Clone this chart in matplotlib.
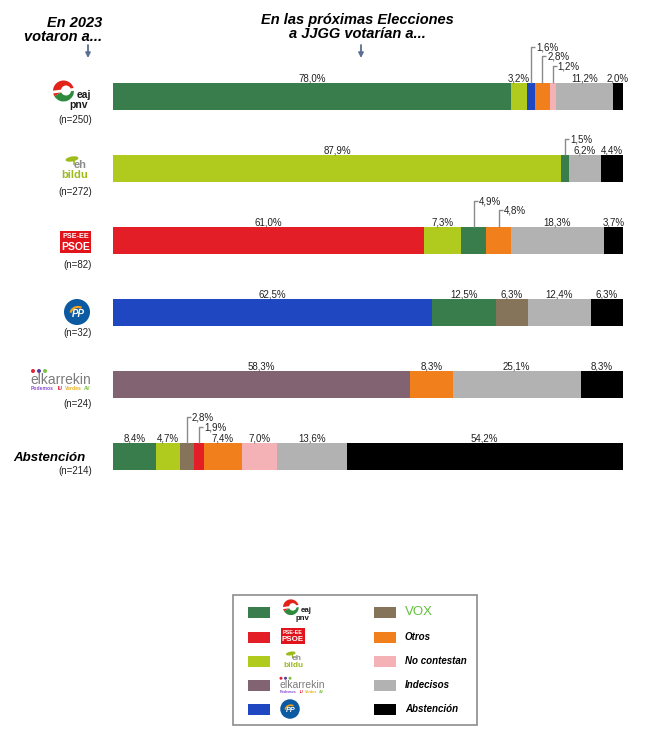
import matplotlib
matplotlib.use('Agg')
import matplotlib.pyplot as plt
from matplotlib.patches import Rectangle, Circle, Wedge, Ellipse, Arc
import numpy as np

plt.rcParams['font.family'] = ['Liberation Sans', 'DejaVu Sans']

# --- data ---
rows = ['PNV', 'Bildu', 'PSOE', 'PP', 'Elkarrekin', 'Abstención']
n_sizes = [250, 272, 82, 32, 24, 214]
row_segments = [
    ['PNV', 'Bildu', 'PP', 'Otros', 'No contestan', 'Indecisos', 'Abstención'],
    ['Bildu', 'PNV', 'Indecisos', 'Abstención'],
    ['PSOE', 'Bildu', 'PNV', 'Otros', 'Indecisos', 'Abstención'],
    ['PP', 'PNV', 'VOX', 'Indecisos', 'Abstención'],
    ['Elkarrekin', 'Otros', 'Indecisos', 'Abstención'],
    ['PNV', 'Bildu', 'VOX', 'PSOE', 'Otros', 'No contestan', 'Indecisos', 'Abstención'],
]
row_values = [
    [78.0, 3.2, 1.6, 2.8, 1.2, 11.2, 2.0],
    [87.9, 1.5, 6.2, 4.4],
    [61.0, 7.3, 4.9, 4.8, 18.3, 3.7],
    [62.5, 12.5, 6.3, 12.4, 6.3],
    [58.3, 8.3, 25.1, 8.3],
    [8.4, 4.7, 2.8, 1.9, 7.4, 7.0, 13.6, 54.2],
]
legend_left = ['PNV', 'PSOE', 'Bildu', 'Elkarrekin', 'PP']
legend_right = ['VOX', 'Otros', 'No contestan', 'Indecisos', 'Abstención']

colors = {
    'PNV': '#3a7d4c', 'Bildu': '#b0ca1e', 'PSOE': '#e31e26',
    'Elkarrekin': '#826371', 'PP': '#1e47c1', 'VOX': '#857459',
    'Otros': '#f07f1c', 'No contestan': '#f4b2b6', 'Indecisos': '#b1b2b1',
    'Abstención': '#000000',
}

# small segments labelled with a leader line: (row, segment) -> height in px above bar
leaders = {
    (0, 'PP'): 36, (0, 'Otros'): 27, (0, 'No contestan'): 17,
    (1, 'PNV'): 16,
    (2, 'PNV'): 26, (2, 'Otros'): 17,
    (5, 'VOX'): 26, (5, 'PSOE'): 16,
}

# --- layout (pixels) ---
W, H = 671, 755
ROW0, PITCH, BAR_PX = 97, 72, 27
PX = 100 / 510          # data units per px (x)
PY = 1 / PITCH          # data units per px (y)
BAR_H = BAR_PX * PY

fig = plt.figure(figsize=(W / 100, H / 100), dpi=100)
ax = fig.add_axes([113 / W, 0, 510 / W, 1])
ax.set_xlim(0, 100)
ax.set_ylim((H - ROW0) / PITCH, -ROW0 / PITCH)
ax.axis('off')

ov = fig.add_axes([0, 0, 1, 1], zorder=3)
ov.set_xlim(0, W)
ov.set_ylim(H, 0)
ov.axis('off')

TXT = '#222222'
LEAD = '#8a8a8a'

for i, (segs, vals) in enumerate(zip(row_segments, row_values)):
    vals = np.array(vals)
    left = np.concatenate([[0], np.cumsum(vals)[:-1]])
    ax.barh(i, vals, left=left, height=BAR_H,
            color=[colors[s] for s in segs], linewidth=0)
    top = i - BAR_H / 2
    for s, v, l in zip(segs, vals, left):
        xc = l + v / 2
        lab = f'{v:.1f}%'.replace('.', ',')
        if (i, s) in leaders:
            lv = leaders[(i, s)] * PY
            ax.plot([xc, xc, xc + 4 * PX], [top, top - lv, top - lv],
                    color=LEAD, lw=1.0, solid_capstyle='butt')
            ax.text(xc + 5 * PX, top - lv, lab, ha='left', va='center',
                    fontsize=7, color=TXT)
        else:
            ax.text(xc, top - 1.5 * PY, lab, ha='center', va='baseline',
                    fontsize=7, color=TXT)


# --- logos (drawn in overlay pixel coords, cx/cy = logo centre) ---
def logo_pnv(cx, cy, s=1.0):
    c = (cx - 9.5 * s, cy - 5 * s)
    ov.add_patch(Wedge(c, 10.5 * s, 150, 345, color='#e2231a', lw=0))
    ov.add_patch(Wedge(c, 10.5 * s, 345, 510, color='#2e8b3e', lw=0))
    ov.add_patch(Circle((c[0] + 2.5 * s, c[1] - 0.5 * s), 5 * s, color='white', lw=0))
    ov.plot([c[0] - 10 * s, c[0] + 10 * s], [c[1] + 1 * s, c[1] - 1.5 * s],
            color='white', lw=2 * s)
    ov.text(cx + 11 * s, cy - 1 * s, 'eaj', ha='center', va='center',
            fontsize=7.5 * s, fontweight='bold', color='#1a1a1a')
    ov.text(cx + 6 * s, cy + 9.5 * s, 'pnv', ha='center', va='center',
            fontsize=7.5 * s, fontweight='bold', color='#1a1a1a')


def logo_bildu(cx, cy, s=1.0):
    ov.add_patch(Ellipse((cx - 3 * s, cy - 10 * s), 13 * s, 5 * s,
                         angle=-10, color='#9dbb1a', lw=0))
    ov.plot([cx - 1 * s, cx - 1 * s], [cy - 9 * s, cy - 5 * s],
            color='#9dbb1a', lw=1.2 * s)
    ov.text(cx + 5 * s, cy - 4 * s, 'eh', ha='center', va='center',
            fontsize=8 * s, fontweight='bold', color='#8c8c8c')
    ov.text(cx, cy + 5.5 * s, 'bildu', ha='center', va='center',
            fontsize=8 * s, fontweight='bold', color='#9dbb1a')


def logo_psoe(cx, cy, s=1.0):
    ov.add_patch(Rectangle((cx - 15.5 * s, cy - 11 * s), 31 * s, 22 * s,
                           color='#e2141b', lw=0))
    ov.text(cx, cy - 5 * s, 'PSE-EE', ha='center', va='center',
            fontsize=5.2 * s, fontweight='bold', color='white')
    ov.text(cx, cy + 4.5 * s, 'PSOE', ha='center', va='center',
            fontsize=7.5 * s, fontweight='bold', color='white')


def logo_pp(cx, cy, s=1.0):
    ov.add_patch(Circle((cx, cy), 13 * s, color='#0b5aa2', lw=0))
    ov.add_patch(Arc((cx + 1 * s, cy + 2 * s), 15 * s, 14 * s, theta1=190,
                     theta2=300, color='#f6a21b', lw=1.6 * s))
    ov.text(cx + 1 * s, cy + 2 * s, 'PP', ha='center', va='center',
            fontsize=7 * s, fontweight='bold', style='italic', color='white')


def logo_elk(cx, cy, s=1.0):
    for dx, col in zip([-28, -22, -16], ['#e2233a', '#5b3c9a', '#7cc242']):
        ov.add_patch(Circle((cx + dx * s, cy - 9 * s), 2 * s, color=col, lw=0))
    ov.text(cx, cy, 'elkarrekin', ha='center', va='center',
            fontsize=10 * s, color='#7b7b7b')
    sub = [('Podemos', -30, '#8c4fd0'), ('IU', -3, '#e2233a'),
           ('Verdes', 4, '#e7b21c'), ('AV', 23, '#7cc242')]
    for t, dx, col in sub:
        ov.text(cx + dx * s, cy + 9 * s, t, ha='left', va='center',
                fontsize=3.6 * s, fontweight='bold', color=col)


def logo_vox(x, cy, s=1.0):
    ov.text(x, cy, 'VOX', ha='left', va='center', fontsize=9.5 * s,
            color='#63bf3b')


row_logo = {
    'PNV': (logo_pnv, 73, -1), 'Bildu': (logo_bildu, 75, 0),
    'PSOE': (logo_psoe, 75.5, 1), 'PP': (logo_pp, 77, -1),
    'Elkarrekin': (logo_elk, 61, -5),
}
n_offset = [23, 23, 24, 20, 19, 14]

for i, r in enumerate(rows):
    yc = ROW0 + PITCH * i
    if r in row_logo:
        fn, lx, dy = row_logo[r]
        fn(lx, yc + dy)
    else:
        ov.text(86, yc + 1, r, ha='right', va='center', fontsize=9.5,
                fontweight='bold', style='italic', color='black')
    ov.text(92, yc + n_offset[i], f'(n={n_sizes[i]})', ha='right',
            va='center', fontsize=7, color=TXT)

# --- titles ---
ov.text(102, 30, 'En 2023\nvotaron a...', ha='right', va='center',
        fontsize=10.5, fontweight='bold', style='italic', linespacing=1.0)
ov.text(357, 27, 'En las próximas Elecciones\na JJGG votarían a...',
        ha='center', va='center', fontsize=10.5, fontweight='bold',
        style='italic', linespacing=1.0)
for ax_x in [88, 361]:
    ov.annotate('', xy=(ax_x, 58), xytext=(ax_x, 45),
                arrowprops=dict(arrowstyle='-|>', color='#5b6e94', lw=1.3,
                                mutation_scale=7, shrinkA=0, shrinkB=0))

# --- legend box ---
ov.add_patch(Rectangle((233, 595), 244, 130, fill=False, ec='#8c8c8c', lw=1.2))
leg_y = [612, 637, 661, 685, 709]
left_logo_pos = {
    'PNV': (logo_pnv, 298, 611), 'PSOE': (logo_psoe, 293, 636),
    'Bildu': (logo_bildu, 293, 661), 'Elkarrekin': (logo_elk, 302, 685),
    'PP': (logo_pp, 290, 709),
}
for k, y in zip(legend_left, leg_y):
    ov.add_patch(Rectangle((248, y - 5.5), 22, 11, color=colors[k], lw=0))
    fn, lx, ly = left_logo_pos[k]
    fn(lx, ly, 0.75)
for k, y in zip(legend_right, leg_y):
    ov.add_patch(Rectangle((374, y - 5.5), 22, 11, color=colors[k], lw=0))
    if k == 'VOX':
        logo_vox(405, y, 1.0)
    else:
        ov.text(405, y, k, ha='left', va='center', fontsize=7,
                fontweight='bold', style='italic', color='black')

fig.savefig('out.png', dpi=100)
